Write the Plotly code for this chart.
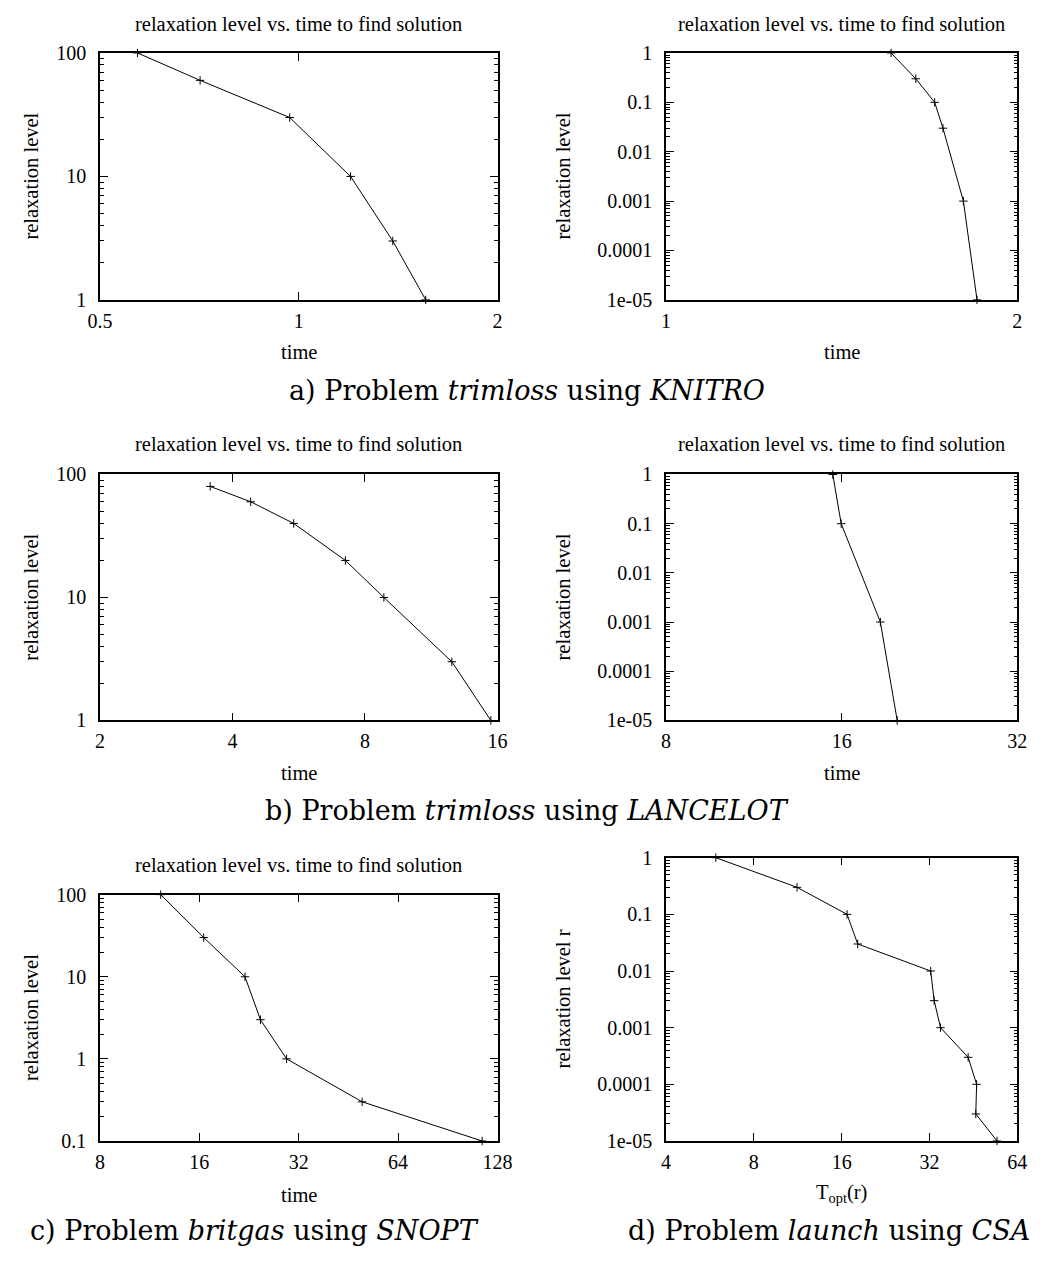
import math
import plotly.graph_objects as go

W, H = 1057, 1264

# ---- data -------------------------------------------------------------
# a) trimloss / KNITRO
a1_time = [0.570, 0.709, 0.969, 1.198, 1.388, 1.557]
a1_level = [100, 60, 30, 10, 3, 1]
a2_time = [1.559, 1.637, 1.699, 1.727, 1.798, 1.847]
a2_level = [1, 0.3, 0.1, 0.03, 0.001, 1e-05]

# b) trimloss / LANCELOT
b1_time = [3.56, 4.40, 5.51, 7.22, 8.83, 12.6, 15.45]
b1_level = [80, 60, 40, 20, 10, 3, 1]
b2_time = [15.45, 15.97, 18.64, 19.92]
b2_level = [1, 0.1, 0.001, 1e-05]

# c) britgas / SNOPT
c_time = [12.22, 16.5, 22.0, 24.5, 29.4, 49.8, 115]
c_level = [100, 30, 10, 3, 1, 0.3, 0.1]

# d) launch / CSA
d_time = [5.93, 11.25, 16.7, 18.16, 32.3, 33.2, 34.9, 43.4, 46.4, 46.1, 54.5]
d_level = [1, 0.3, 0.1, 0.03, 0.01, 0.003, 0.001, 0.0003, 0.0001, 3e-05, 1e-05]

# tick sets
x_ticks_a1 = [0.5, 1, 2]
x_ticks_a2 = [1, 2]
x_ticks_b1 = [2, 4, 8, 16]
x_ticks_b2 = [8, 16, 32]
x_ticks_c = [8, 16, 32, 64, 128]
x_ticks_d = [4, 8, 16, 32, 64]
y_ticks_big = [1, 10, 100]
y_ticks_big_text = ["1", "10", "100"]
y_ticks_c = [0.1, 1, 10, 100]
y_ticks_c_text = ["0.1", "1", "10", "100"]
y_ticks_small = [1e-05, 1e-04, 1e-03, 1e-02, 1e-01, 1]
y_ticks_small_text = ["1e-05", "0.0001", "0.001", "0.01", "0.1", "1"]

TITLE = "relaxation level vs. time to find solution"
SERIF = "Liberation Serif"
CM = "DejaVu Serif"


def px_x(p):
    return p / W


def px_y(p):
    return 1 - p / H


# panel boxes in pixels: (left, right, top, bottom)
L_LEFT, L_RIGHT = 89.3, 497.7
R_LEFT, R_RIGHT = 670.7, 1031.7
panels = [
    dict(x=a1_time, y=a1_level, xt=x_ticks_a1, yt=y_ticks_big, ytt=y_ticks_big_text,
         box=(L_LEFT, L_RIGHT, 42.7, 294.0), title=13.5, xlabel="time", xl_y=347),
    dict(x=a2_time, y=a2_level, xt=x_ticks_a2, yt=y_ticks_small, ytt=y_ticks_small_text,
         box=(R_LEFT, R_RIGHT, 42.7, 294.0), title=13.5, xlabel="time", xl_y=347),
    dict(x=b1_time, y=b1_level, xt=x_ticks_b1, yt=y_ticks_big, ytt=y_ticks_big_text,
         box=(L_LEFT, L_RIGHT, 471.7, 722.0), title=441, xlabel="time", xl_y=776),
    dict(x=b2_time, y=b2_level, xt=x_ticks_b2, yt=y_ticks_small, ytt=y_ticks_small_text,
         box=(R_LEFT, R_RIGHT, 471.7, 722.0), title=441, xlabel="time", xl_y=776),
    dict(x=c_time, y=c_level, xt=x_ticks_c, yt=y_ticks_c, ytt=y_ticks_c_text,
         box=(L_LEFT, L_RIGHT, 899.3, 1150.0), title=869, xlabel="time", xl_y=1205),
    dict(x=d_time, y=d_level, xt=x_ticks_d, yt=y_ticks_small, ytt=y_ticks_small_text,
         box=(R_LEFT, R_RIGHT, 861.7, 1150.0), title=None,
         xlabel="T<sub>opt</sub>(r)", xl_y=1203, ylabel="relaxation level r"),
]

fig = go.Figure()
annotations = []

for i, p in enumerate(panels, start=1):
    xa = "x" if i == 1 else f"x{i}"
    ya = "y" if i == 1 else f"y{i}"
    left, right, top, bottom = p["box"]
    is_left = left < 300

    fig.add_trace(go.Scatter(
        x=p["x"], y=p["y"], xaxis=xa, yaxis=ya, mode="lines+markers",
        line=dict(color="black", width=1),
        marker=dict(symbol="cross-thin", size=6, line=dict(color="black", width=1)),
        cliponaxis=False, showlegend=False, hoverinfo="x+y",
    ))

    ylo, yhi = math.log10(p["yt"][0]), math.log10(p["yt"][-1])
    xlo, xhi = math.log10(p["xt"][0]), math.log10(p["xt"][-1])
    minor_vals = [m * 10 ** k for k in range(int(round(ylo)), int(round(yhi)))
                  for m in range(2, 10)]

    xkey = "xaxis" if i == 1 else f"xaxis{i}"
    ykey = "yaxis" if i == 1 else f"yaxis{i}"
    fig.update_layout({
        xkey: dict(
            type="log", range=[xlo, xhi], domain=[px_x(left), px_x(right)],
            anchor=ya, tickmode="array", tickvals=p["xt"],
            ticktext=[f"{v:g}" for v in p["xt"]],
            ticks="inside", ticklen=8, tickwidth=1, tickcolor="black",
            showline=True, linecolor="black", linewidth=1.5, mirror="ticks",
            showgrid=False, zeroline=False, ticklabelstandoff=2,
            tickfont=dict(family=SERIF, size=20, color="black"),
        ),
        ykey: dict(
            type="log", range=[ylo, yhi], domain=[px_y(bottom), px_y(top)],
            anchor=xa, tickmode="array", tickvals=p["yt"], ticktext=p["ytt"],
            ticks="inside", ticklen=8, tickwidth=1, tickcolor="black",
            minor=dict(tickmode="array", tickvals=minor_vals, ticks="inside",
                       ticklen=4, tickwidth=1, tickcolor="black", showgrid=False),
            showline=True, linecolor="black", linewidth=1.5, mirror="ticks",
            showgrid=False, zeroline=False, ticklabelstandoff=8,
            tickfont=dict(family=SERIF, size=20, color="black"),
        ),
    })

    cx = (left + right) / 2
    if p["title"] is not None:
        annotations.append(dict(
            text=TITLE, x=px_x(cx), y=px_y(p["title"]), xref="paper", yref="paper",
            showarrow=False, xanchor="center", yanchor="middle",
            font=dict(family=SERIF, size=20.5, color="black"),
        ))
    annotations.append(dict(
        text=p["xlabel"], x=px_x(cx), y=px_y(p["xl_y"]), xref="paper", yref="paper",
        showarrow=False, xanchor="center", yanchor="middle",
        font=dict(family=SERIF, size=20.5, color="black"),
    ))
    yl_x = 18.7 if is_left else 565
    annotations.append(dict(
        text=p.get("ylabel", "relaxation level"), x=px_x(yl_x),
        y=px_y((top + bottom) / 2), xref="paper", yref="paper", textangle=-90,
        showarrow=False, xanchor="center", yanchor="middle",
        font=dict(family=SERIF, size=20.5, color="black"),
    ))

captions = [
    ("a) Problem <i>trimloss</i> using <i>KNITRO</i>", 528, 386),
    ("b) Problem <i>trimloss</i> using <i>LANCELOT</i>", 528, 814),
    ("c) Problem <i>britgas</i> using <i>SNOPT</i>", 248, 1241),
    ("d) Problem <i>launch</i> using <i>CSA</i>", 838, 1241),
]
for text, cx, cy in captions:
    annotations.append(dict(
        text=text, x=px_x(cx), y=px_y(cy), xref="paper", yref="paper",
        showarrow=False, xanchor="center", yanchor="middle",
        font=dict(family=CM, size=27, color="black"),
    ))

fig.update_layout(
    width=W, height=H, margin=dict(l=0, r=0, t=0, b=0),
    paper_bgcolor="white", plot_bgcolor="white",
    annotations=annotations, showlegend=False,
)

# the page itself should add no margin or scrollbars around the figure
page_css = (
    "var s = document.createElement('style');"
    "s.textContent = 'html, body { margin: 0 !important; padding: 0 !important;"
    " overflow: hidden !important; }';"
    "document.head.appendChild(s);"
)
fig.write_html("out.html", post_script=page_css)
